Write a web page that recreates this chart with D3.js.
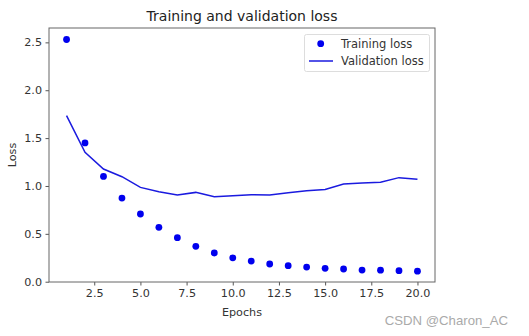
<!DOCTYPE html>
<html>
<head>
<meta charset="utf-8">
<script src="https://cdn.jsdelivr.net/npm/d3@7"></script>
<style>
  body { margin: 0; background: #fff; }
  svg text { font-family: "DejaVu Sans", sans-serif; }
</style>
</head>
<body>
<svg id="chart" width="529" height="336"></svg>
<script>
// data
var epochs = d3.range(1, 21);
var trainLoss = [2.53, 1.45, 1.10, 0.874, 0.707, 0.568, 0.46, 0.37, 0.30, 0.25,
                 0.216, 0.185, 0.167, 0.153, 0.14, 0.133, 0.122, 0.12, 0.115, 0.11];
var valLoss = [1.734, 1.351, 1.177, 1.097, 0.985, 0.94, 0.905, 0.933, 0.888, 0.898,
               0.909, 0.905, 0.93, 0.95, 0.964, 1.02, 1.03, 1.04, 1.087, 1.07];
var xTicks = [2.5, 5.0, 7.5, 10.0, 12.5, 15.0, 17.5, 20.0];
var yTicks = [0.0, 0.5, 1.0, 1.5, 2.0, 2.5];

var FRAME = {left: 49, right: 435, top: 28, bottom: 282};

var svg = d3.select("#chart");

var x = d3.scaleLinear().domain([0.05, 20.95]).range([FRAME.left, FRAME.right]);
var y = d3.scaleLinear().domain([-0.003, 2.65]).range([FRAME.bottom, FRAME.top]);

// axes
var xAxis = d3.axisBottom(x).tickValues(xTicks).tickFormat(d3.format(".1f")).tickSize(3.5).tickPadding(4);
var yAxis = d3.axisLeft(y).tickValues(yTicks).tickFormat(d3.format(".1f")).tickSize(3.5).tickPadding(3.5);

var gx = svg.append("g").attr("transform", "translate(0," + FRAME.bottom + ")").call(xAxis);
var gy = svg.append("g").attr("transform", "translate(" + FRAME.left + ",0)").call(yAxis);

[gx, gy].forEach(function(g) {
    g.select(".domain").remove();
    g.selectAll(".tick line").attr("stroke", "#555");
    g.selectAll(".tick text").attr("fill", "#333").style("font-size", "11.2px");
});

// frame
svg.append("rect")
    .attr("x", FRAME.left)
    .attr("y", FRAME.top)
    .attr("width", FRAME.right - FRAME.left)
    .attr("height", FRAME.bottom - FRAME.top)
    .attr("fill", "none")
    .attr("stroke", "#666")
    .attr("stroke-width", 1);

// validation line
var line = d3.line()
    .x(function(d, i) { return x(epochs[i]); })
    .y(function(d) { return y(d); });

svg.append("path")
    .datum(valLoss)
    .attr("d", line)
    .attr("fill", "none")
    .attr("stroke", "#1a1adf")
    .attr("stroke-width", 1.5);

// training dots
svg.append("g")
    .selectAll("circle")
    .data(trainLoss)
    .enter()
    .append("circle")
    .attr("cx", function(d, i) { return x(epochs[i]); })
    .attr("cy", function(d) { return y(d); })
    .attr("r", 3.4)
    .attr("fill", "#0000ee");

// title and axis labels
svg.append("text")
    .attr("x", (FRAME.left + FRAME.right) / 2)
    .attr("y", 21)
    .attr("text-anchor", "middle")
    .attr("fill", "#222")
    .style("font-size", "14px")
    .text("Training and validation loss");

svg.append("text")
    .attr("x", (FRAME.left + FRAME.right) / 2)
    .attr("y", 316)
    .attr("text-anchor", "middle")
    .attr("fill", "#333")
    .style("font-size", "11.2px")
    .text("Epochs");

svg.append("text")
    .attr("transform", "translate(16," + (FRAME.top + FRAME.bottom) / 2 + ") rotate(-90)")
    .attr("text-anchor", "middle")
    .attr("fill", "#333")
    .style("font-size", "11.2px")
    .text("Loss");

// legend
var legend = svg.append("g");
legend.append("rect")
    .attr("x", 304.5).attr("y", 34.5)
    .attr("width", 125).attr("height", 37)
    .attr("rx", 2)
    .attr("fill", "#fff")
    .attr("stroke", "#ddd");
legend.append("circle")
    .attr("cx", 320.7).attr("cy", 43.7).attr("r", 3.4)
    .attr("fill", "#0000ee");
legend.append("line")
    .attr("x1", 309).attr("x2", 333).attr("y1", 61).attr("y2", 61)
    .attr("stroke", "#1a1adf").attr("stroke-width", 1.5);
legend.append("text")
    .attr("x", 341).attr("y", 47.8)
    .attr("fill", "#333")
    .style("font-size", "11.5px")
    .text("Training loss");
legend.append("text")
    .attr("x", 341).attr("y", 65)
    .attr("fill", "#333")
    .style("font-size", "11.5px")
    .text("Validation loss");

// watermark
svg.append("text")
    .attr("x", 508)
    .attr("y", 325)
    .attr("text-anchor", "end")
    .attr("fill", "#aaa")
    .style("font-family", "Arial, 'Liberation Sans', sans-serif")
    .style("font-size", "13.2px")
    .text("CSDN @Charon_AC");
</script>
</body>
</html>
